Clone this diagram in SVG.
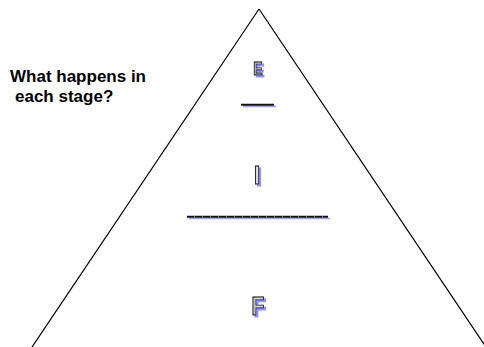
<svg xmlns="http://www.w3.org/2000/svg" width="484" height="347" viewBox="0 0 484 347">
  <defs>
    <linearGradient id="g" x1="0" y1="0" x2="1" y2="0">
      <stop offset="0" stop-color="#9a9a9a"/>
      <stop offset="0.5" stop-color="#e6e6e6"/>
      <stop offset="1" stop-color="#bdbdbd"/>
    </linearGradient>
    <filter id="sh" x="-50%" y="-50%" width="200%" height="200%">
      <feOffset in="SourceAlpha" dx="2.2" dy="1.5" result="o"/>
      <feFlood flood-color="#8f8fff"/>
      <feComposite in2="o" operator="in" result="s"/>
      <feMerge>
        <feMergeNode in="s"/>
        <feMergeNode in="SourceGraphic"/>
      </feMerge>
    </filter>
  </defs>
  <style>
    .title { font-family: "Liberation Sans", Arial, sans-serif; font-weight: bold; font-size: 17px; fill: #000; }
    .wa { font-family: "Liberation Sans", Arial, sans-serif; font-weight: bold; text-anchor: middle; fill: url(#g); stroke: #000; stroke-width: 0.9; }
    .edge { stroke: #000; stroke-width: 1.2; fill: none; }
    .rule { stroke: #111; stroke-width: 2; }
    .rule-shadow { stroke: #a0a0ff; stroke-width: 1.5; }
  </style>
  <rect width="484" height="347" fill="#fff"/>
  <g id="connectors">
    <path class="edge" d="M259 9 L26 356 M259 9 L492 356"/>
  </g>
  <g id="title">
    <text class="title" x="10" y="82">What happens in</text>
    <text class="title" x="15" y="102">each stage?</text>
  </g>
  <g id="node-E">
    <g transform="translate(258 75) scale(0.78 1)" filter="url(#sh)">
      <text class="wa" x="0" y="0" font-size="18">E</text>
    </g>
    <line class="rule-shadow" x1="243" y1="106.5" x2="276" y2="106.5"/>
    <line class="rule" x1="241" y1="104.7" x2="274" y2="104.7"/>
  </g>
  <g id="node-I">
    <g transform="translate(257 184) scale(0.9 1)" filter="url(#sh)">
      <text class="wa" x="0" y="0" font-size="25">I</text>
    </g>
    <line class="rule-shadow" x1="189" y1="218.6" x2="330" y2="218.6"/>
    <line class="rule" x1="187" y1="216.7" x2="328" y2="216.7"/>
    <line x1="187" y1="216.7" x2="328" y2="216.7" stroke="#777" stroke-width="2" stroke-dasharray="1 7" stroke-dashoffset="-7"/>
  </g>
  <g id="node-F">
    <g transform="translate(258 315) scale(0.85 1)" filter="url(#sh)">
      <text class="wa" x="0" y="0" font-size="25">F</text>
    </g>
  </g>
</svg>
